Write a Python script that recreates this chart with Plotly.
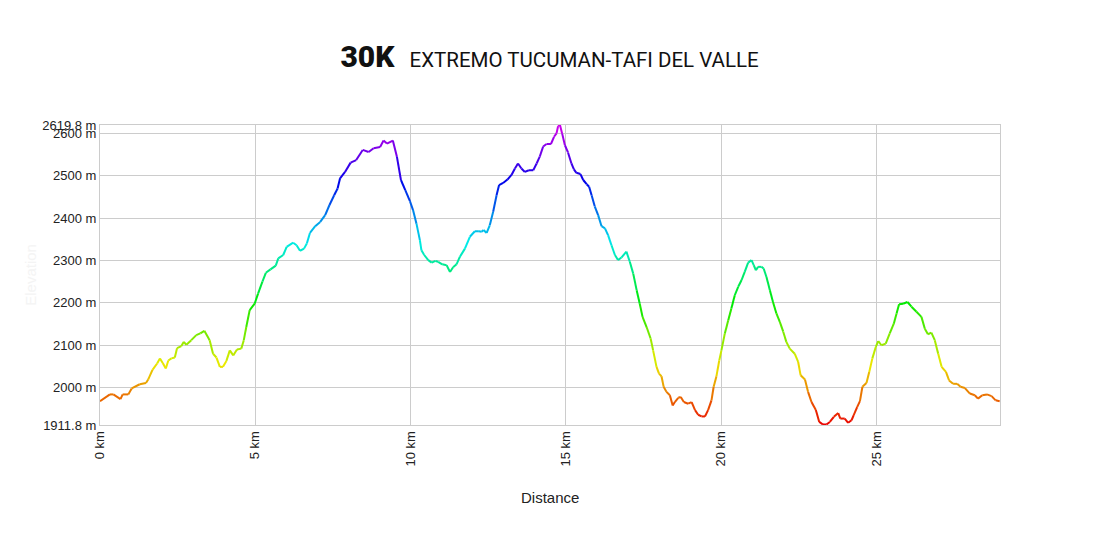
import colorsys
import plotly.graph_objects as go

# perfil de elevacion
dist_km = [0.00, 0.32, 0.43, 0.66, 0.73, 0.91, 1.02, 1.28, 1.48, 1.55, 1.69, 1.84, 1.93, 2.02, 2.12, 2.20,
           2.30, 2.41, 2.48, 2.62, 2.70, 2.78, 2.94, 3.10, 3.23, 3.36, 3.53, 3.64, 3.75, 3.86, 3.96, 4.07,
           4.18, 4.29, 4.41, 4.55, 4.63, 4.71, 4.82, 4.98, 5.09, 5.23, 5.34, 5.49, 5.66, 5.74, 5.90, 6.01,
           6.22, 6.33, 6.44, 6.57, 6.66, 6.76, 6.93, 7.09, 7.25, 7.39, 7.54, 7.65, 7.73, 7.89, 8.07, 8.25,
           8.46, 8.65, 8.81, 9.02, 9.13, 9.24, 9.43, 9.56, 9.69, 9.83, 9.98, 10.08, 10.19, 10.30, 10.35, 10.44,
           10.57, 10.68, 10.80, 10.89, 11.02, 11.16, 11.27, 11.37, 11.48, 11.59, 11.75, 11.91, 12.07, 12.20, 12.29, 12.35,
           12.45, 12.55, 12.66, 12.77, 12.85, 12.98, 13.12, 13.25, 13.36, 13.46, 13.57, 13.68, 13.81, 13.95, 14.06, 14.16,
           14.27, 14.38, 14.52, 14.62, 14.70, 14.75, 14.81, 14.88, 14.97, 15.07, 15.18, 15.26, 15.34, 15.47, 15.56, 15.67,
           15.75, 15.83, 15.93, 16.04, 16.15, 16.26, 16.36, 16.47, 16.58, 16.68, 16.79, 16.95, 17.06, 17.17, 17.28, 17.38,
           17.47, 17.60, 17.73, 17.81, 17.92, 18.00, 18.08, 18.15, 18.24, 18.35, 18.44, 18.51, 18.62, 18.70, 18.80, 18.94,
           19.05, 19.16, 19.26, 19.37, 19.48, 19.58, 19.69, 19.76, 19.85, 19.94, 20.01, 20.12, 20.23, 20.33, 20.44, 20.55,
           20.66, 20.76, 20.87, 20.98, 21.05, 21.12, 21.19, 21.30, 21.37, 21.46, 21.57, 21.67, 21.78, 21.89, 22.00, 22.10,
           22.21, 22.37, 22.48, 22.56, 22.70, 22.80, 22.91, 23.05, 23.16, 23.28, 23.39, 23.50, 23.63, 23.77, 23.84, 23.98,
           24.09, 24.20, 24.27, 24.38, 24.47, 24.55, 24.68, 24.77, 24.87, 24.98, 25.06, 25.16, 25.30, 25.43, 25.56, 25.65,
           25.73, 25.86, 26.00, 26.13, 26.29, 26.45, 26.56, 26.66, 26.77, 26.88, 26.99, 27.10, 27.24, 27.34, 27.47, 27.60,
           27.71, 27.85, 28.01, 28.17, 28.27, 28.41, 28.56, 28.71, 28.84, 28.97]
elev_m = [1968, 1984, 1984, 1973, 1984, 1984, 1998, 2008, 2011, 2019, 2042, 2057, 2069, 2058, 2045, 2064,
          2069, 2071, 2093, 2098, 2108, 2101, 2112, 2124, 2128, 2134, 2112, 2080, 2071, 2049, 2049, 2063,
          2088, 2076, 2090, 2092, 2112, 2143, 2183, 2198, 2222, 2250, 2271, 2279, 2288, 2305, 2313, 2332,
          2342, 2336, 2323, 2328, 2340, 2365, 2381, 2391, 2407, 2431, 2454, 2470, 2494, 2509, 2531, 2537,
          2561, 2556, 2565, 2568, 2583, 2576, 2583, 2545, 2490, 2466, 2440, 2419, 2387, 2348, 2324, 2313,
          2301, 2295, 2299, 2297, 2291, 2289, 2273, 2284, 2291, 2309, 2328, 2356, 2369, 2369, 2368, 2372,
          2365, 2383, 2415, 2454, 2478, 2483, 2491, 2502, 2517, 2529, 2517, 2509, 2513, 2513, 2529, 2545,
          2569, 2575, 2575, 2592, 2600, 2617, 2619.8, 2600, 2572, 2555, 2529, 2515, 2507, 2504, 2490, 2480,
          2474, 2454, 2428, 2407, 2381, 2376, 2360, 2336, 2313, 2301, 2307, 2321, 2297, 2269, 2230, 2198,
          2167, 2143, 2116, 2088, 2049, 2033, 2027, 2002, 1990, 1982, 1958, 1966, 1976, 1978, 1966, 1962,
          1966, 1947, 1936, 1932, 1932, 1947, 1970, 2002, 2027, 2064, 2088, 2128, 2159, 2187, 2218, 2238,
          2254, 2273, 2295, 2301, 2289, 2277, 2285, 2285, 2281, 2261, 2230, 2202, 2175, 2155, 2132, 2108,
          2092, 2080, 2061, 2029, 2019, 1990, 1966, 1947, 1919, 1913, 1913, 1919, 1931, 1940, 1927, 1927,
          1917, 1923, 1935, 1954, 1968, 2002, 2011, 2037, 2069, 2096, 2110, 2100, 2104, 2128, 2151, 2175,
          2197, 2198, 2202, 2191, 2179, 2167, 2139, 2126, 2130, 2112, 2080, 2049, 2037, 2017, 2009, 2009,
          2002, 1999, 1986, 1982, 1974, 1982, 1984, 1980, 1970, 1968]

elev_min = 1911.8
elev_max = 2619.8
x_ticks = [0, 5, 10, 15, 20, 25]
x_ticktext = ["0 km", "5 km", "10 km", "15 km", "20 km", "25 km"]
y_ticks = [1911.8, 2000, 2100, 2200, 2300, 2400, 2500, 2600, 2619.8]
y_ticktext = ["1911.8 m", "2000 m", "2100 m", "2200 m", "2300 m", "2400 m", "2500 m", "2600 m", "2619.8 m"]


def elev_color(e):
    # arcoiris: rojo abajo, violeta arriba
    t = (e - elev_min) / (elev_max - elev_min)
    r, g, b = colorsys.hsv_to_rgb(0.82 * t, 1.0, 0.92)
    return f"rgb({int(r * 255)},{int(g * 255)},{int(b * 255)})"


fig = go.Figure()
for i in range(len(dist_km) - 1):
    c = elev_color((elev_m[i] + elev_m[i + 1]) / 2)
    fig.add_scatter(x=dist_km[i:i + 2], y=elev_m[i:i + 2], mode="lines",
                    line=dict(color=c, width=2), showlegend=False, hoverinfo="skip")

fig.add_annotation(text="Distance", x=0.5, y=0, xref="paper", yref="paper", yanchor="middle",
                   yshift=-72, showarrow=False, font=dict(size=15, color="#222"))
fig.add_annotation(text="Elevation", x=-0.078, y=0.5, xref="paper", yref="paper", textangle=-90,
                   xanchor="center", yanchor="middle",
                   showarrow=False, font=dict(size=15, color="#f4f4f4"))

# la pagina tiene 8px de margen en el body, se compensa aqui
fig.update_layout(
    width=1100, height=550,
    template="none",
    paper_bgcolor="white", plot_bgcolor="white",
    margin=dict(l=92, r=108, t=117, b=133),
    font=dict(family="Liberation Sans, Arial", size=13, color="#222"),
    title=dict(
        text='<span style="font-size:30px;font-weight:900">30K</span>&nbsp;&nbsp; EXTREMO TUCUMAN-TAFI DEL VALLE',
        x=0.4923, xanchor="center", y=0.9064, yanchor="middle",
        font=dict(family="Roboto", size=20.5, color="#111"),
    ),
    xaxis=dict(range=[0, 28.98], tickvals=x_ticks, ticktext=x_ticktext, tickangle=-90,
               showgrid=True, gridcolor="#cccccc", zeroline=False, showline=True,
               linecolor="#cccccc", mirror=True, ticks="", tickfont=dict(size=13, color="#222")),
    yaxis=dict(range=[elev_min, elev_max], tickvals=y_ticks, ticktext=y_ticktext,
               showgrid=True, gridcolor="#cccccc", zeroline=False, showline=True,
               linecolor="#cccccc", mirror=True, ticks="", tickfont=dict(size=13, color="#222")),
)
fig.write_html("out.html")
